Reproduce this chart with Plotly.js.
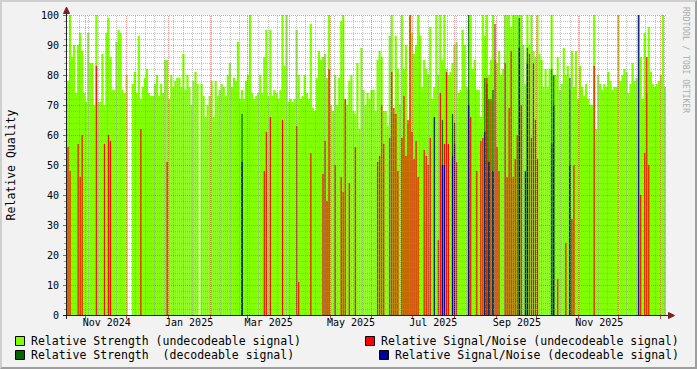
<!DOCTYPE html>
<html><head><meta charset="utf-8">
<script src="https://cdn.plot.ly/plotly-3.0.1.min.js"></script>
<style>
html,body{margin:0;padding:0;background:#F2F2F2;}
#wrap{position:relative;width:697px;height:369px;overflow:hidden;}
#chart{width:697px;height:369px;}
#frame{position:absolute;left:0;top:0;width:697px;height:369px;box-sizing:border-box;border-style:solid;border-width:2px;border-color:#CFCFCF #9E9E9E #9E9E9E #CFCFCF;pointer-events:none;}
</style></head><body>
<div id="wrap"><div id="chart"></div><div id="frame"></div></div>
<script>
// ---- data ----
const sampleStart = '2024-10-18';      // first consolidated sample
const stepHours = 36;                  // consolidation step
const strengthUndecodeable = [
78,100,86,90,74,90,94,88,74,71,
94,84,84,70,100,71,71,87,70,94,
99,86,75,75,91,95,94,75,74,80,
null,null,77,81,74,93,72,76,79,82,
74,73,73,77,80,73,77,74,85,85,
72,80,76,78,79,79,76,87,75,80,
76,70,78,81,77,null,77,73,66,70,
73,78,66,78,73,75,77,76,73,80,
84,76,79,78,91,72,75,72,78,80,
100,74,72,73,74,80,74,86,95,73,
95,73,75,74,72,75,100,83,100,71,
72,71,72,95,80,72,73,80,74,72,
97,69,68,79,88,85,86,87,79,100,
70,68,80,70,79,98,100,72,70,78,
80,68,67,84,62,89,75,70,74,72,
75,75,68,85,88,86,68,68,63,93,
100,67,93,82,70,100,82,90,64,100,
94,87,90,100,93,76,85,82,80,96,
72,76,100,80,100,85,100,82,80,81,
84,90,91,74,75,95,90,76,75,100,
82,85,75,75,66,100,93,100,80,85,
100,85,84,88,80,82,100,100,100,96,
100,100,100,100,100,90,77,100,90,100,
88,86,100,87,85,76,82,76,82,100,
80,80,86,75,77,89,80,83,75,88,
76,88,72,83,76,73,77,72,70,70,
100,62,80,77,75,77,76,81,78,75,
76,76,100,78,80,82,81,74,77,84,
78,79,100,86,72,94,74,96,81,77,
76,77,78,80,100,76
];
// sparse series: sample number -> value
const snrUndecodeableSample = [0,1,5,6,7,14,18,20,21,36,49,97,98,100,106,113,114,120,126,127,128,129,132,135,136,137,139,142,153,154,155,156,159,160,161,162,163,165,166,167,168,169,170,171,172,173,176,177,178,179,183,184,186,187,188,192,199,202,204,205,207,209,211,212,213,216,217,218,219,220,221,222,224,228,229,230,231,232,242,246,249,250,260,283,285,286,287];
const snrUndecodeableValue  = [56,48,57,46,60,83,57,60,58,62,51,48,61,66,65,63,11,54,47,58,38,82,50,46,41,72,44,56,51,53,70,57,59,81,69,67,48,59,73,53,65,100,61,52,58,46,55,53,50,59,25,74,57,81,57,51,66,48,58,59,79,72,97,56,48,84,46,69,88,46,52,60,70,87,59,84,65,52,12,24,32,50,83,40,54,86,50];
const strengthDecodeableSample = [86,185,190,191,198,206,207,208,210,223,227,239,240,248];
const strengthDecodeableValue  = [67,65,67,64,100,79,77,72,75,99,89,82,80,79];
const snrDecodeableSample = [86,181,185,186,190,191,198,206,208,210,223,226,227,239,240,248,282];
const snrDecodeableValue  = [51,66,50,50,53,57,70,61,51,48,89,48,84,57,70,50,100];
const monthLabels = ['Nov 2024','Jan 2025','Mar 2025','May 2025','Jul 2025','Sep 2025','Nov 2025'];
const legendNames = ['Relative Strength (undecodeable signal)','Relative Signal/Noise (undecodeable signal)','Relative Strength  (decodeable signal)','Relative Signal/Noise (decodeable signal)'];
const colors = {strU:'#80FF00', snrU:'#FF0000', strD:'#006600', snrD:'#000099'};

// ---- helpers ----
const t0 = Date.parse(sampleStart + 'T00:00:00Z');
const stepMs = stepHours * 3600e3;
const iso = ms => new Date(ms).toISOString().replace('T',' ').slice(0,19);
const sampleTime = i => iso(t0 + i * stepMs);
const tEnd = t0 + strengthUndecodeable.length * stepMs;

// spikes of the sparse series are drawn as thin lines
function barTrace(samples, values, color, name){
  return {type:'bar', x:samples.map(sampleTime), y:values, width:stepMs*0.5, offset:stepMs*0.25,
    name:name, marker:{color:color, line:{color:color, width:0.2}}, hoverinfo:'skip', showlegend:false};
}
const allSamples = strengthUndecodeable.map((_,i)=>i);
const traces = [
  {type:'bar', x:allSamples.map(sampleTime), y:strengthUndecodeable, width:stepMs, offset:0, name:legendNames[0],
   marker:{color:colors.strU, line:{color:colors.strU, width:0.2}}, hoverinfo:'skip', showlegend:false},
  barTrace(strengthDecodeableSample, strengthDecodeableValue, colors.strD, legendNames[2]),
  barTrace(snrUndecodeableSample, snrUndecodeableValue, colors.snrU, legendNames[1]),
  barTrace(snrDecodeableSample, snrDecodeableValue, colors.snrD, legendNames[3])
];

// plot-area geometry (pixels)
const W=697,H=369,L=67,R=666,T=15,B=315;
const px = p => (p-L)/(R-L);
const py = p => (B-p)/(B-T);

const shapes = [];
const minorGrid = 'rgba(143,143,143,0.55)', majorGrid = 'rgba(222,80,80,0.6)';
const dotted = '1px,1px';
// horizontal grid drawn above the areas, as rrdtool does
for(let v=2; v<=100; v+=2){
  shapes.push({type:'line', xref:'paper', yref:'y', x0:0, x1:1, y0:v-1/6, y1:v-1/6,
    line:{color: v%10===0 ? majorGrid : minorGrid, width:1, dash:dotted}, layer:'above'});
}
// vertical grid: weeks (minor) and month starts (major)
const spanMs = tEnd - t0;
function snapT(ms){ const p = L + (ms-t0)/spanMs*(R-L); const ps = Math.floor(p)+0.5; return iso(t0 + (ps-L)/(R-L)*spanMs); }
const monthStarts = [];
for(let y=2024, m=10; ; ){ const ms = Date.UTC(y,m,1); if(ms>tEnd) break; if(ms>t0) monthStarts.push(ms); m++; if(m>11){m=0;y++;} }
for(let ms = Date.UTC(2024,9,20); ms < tEnd; ms += 7*86400e3){
  if(monthStarts.some(s=>Math.abs(s-ms)<86400e3*0.6)) continue;
  shapes.push({type:'line', xref:'x', yref:'paper', x0:snapT(ms), x1:snapT(ms), y0:0, y1:1, line:{color:minorGrid,width:1,dash:dotted}, layer:'above'});
}
monthStarts.forEach(ms=>{
  shapes.push({type:'line', xref:'x', yref:'paper', x0:snapT(ms), x1:snapT(ms), y0:0, y1:1, line:{color:majorGrid,width:1,dash:dotted}, layer:'above'});
});
// axis lines and arrows
shapes.push({type:'line', xref:'paper', yref:'paper', x0:px(63), x1:px(670), y0:py(315.5), y1:py(315.5), line:{color:'#1F1F1F', width:1}});
shapes.push({type:'line', xref:'paper', yref:'paper', x0:px(66.5), x1:px(66.5), y0:py(319), y1:py(10), line:{color:'#1F1F1F', width:1}});
shapes.push({type:'path', xref:'paper', yref:'paper', path:`M${px(63.5)},${py(13.5)} L${px(69.5)},${py(13.5)} L${px(66.5)},${py(7)} Z`, fillcolor:'#801F1F', line:{color:'#801F1F',width:1}});
shapes.push({type:'path', xref:'paper', yref:'paper', path:`M${px(668.5)},${py(312.5)} L${px(668.5)},${py(318.5)} L${px(674.5)},${py(315.5)} Z`, fillcolor:'#801F1F', line:{color:'#801F1F',width:1}});

// legend (boxes + text, rrdtool style)
const legendItems = [
  {name:legendNames[0], color:colors.strU, bx:15, tx:29, y:341},
  {name:legendNames[1], color:colors.snrU, bx:365, tx:379, y:341},
  {name:legendNames[2], color:colors.strD, bx:15, tx:29, y:355},
  {name:legendNames[3], color:colors.snrD, bx:379, tx:393, y:355}
];
const annotations = [];
legendItems.forEach(it=>{
  shapes.push({type:'rect', xref:'paper', yref:'paper', x0:px(it.bx+0.5), x1:px(it.bx+9.5), y0:py(it.y-4.5), y1:py(it.y+4.5), fillcolor:it.color, line:{color:'#000',width:1}});
  annotations.push({xref:'paper', yref:'paper', x:px(it.tx), y:py(it.y), xanchor:'left', yanchor:'middle', showarrow:false, text:it.name,
    font:{family:'DejaVu Sans Mono', size:11.5, color:'#000'}});
});
annotations.push({xref:'paper', yref:'paper', x:px(686), y:py(60), xanchor:'center', yanchor:'middle', showarrow:false, textangle:90,
  text:'RRDTOOL / TOBI OETIKER', font:{family:'DejaVu Sans Mono', size:8, color:'#ABABAB'}});

// month labels sit in the middle of their month
const tickvals = monthLabels.map(lbl=>{
  const d = new Date(Date.parse('1 ' + lbl + ' UTC'));
  return iso(Date.UTC(d.getUTCFullYear(), d.getUTCMonth(), 1) + 15.5*86400e3);
});

const layout = {
  width:W, height:H, margin:{l:L, r:W-R, t:T, b:H-B, pad:0, autoexpand:false},
  paper_bgcolor:'#F2F2F2', plot_bgcolor:'#FFFFFF',
  font:{family:'DejaVu Sans Mono', size:10, color:'#000'},
  barmode:'overlay', bargap:0, bargroupgap:0, showlegend:false,
  xaxis:{type:'date', automargin:false, range:[iso(t0), iso(tEnd)], showgrid:false, zeroline:false, showline:false,
    tickmode:'array', tickvals:tickvals, ticktext:monthLabels, ticks:'', tickfont:{size:10},
    minor:{tickmode:'array', tickvals:monthStarts.map(iso), ticks:'outside', ticklen:3, tickcolor:'#B05050', showgrid:false}},
  yaxis:{automargin:false, range:[0,100], autorange:false, showgrid:false, zeroline:false, showline:false, tickmode:'linear', tick0:0, dtick:10,
    ticks:'outside', ticklen:3, tickcolor:'#B05050', tickfont:{size:10}, ticklabelstandoff:2,
    minor:{dtick:2, ticks:'outside', ticklen:2, tickcolor:'#999999', showgrid:false},
    title:{text:'Relative Quality', font:{size:11.5}, standoff:22}},
  shapes:shapes, annotations:annotations
};
Plotly.newPlot('chart', traces, layout, {staticPlot:true, displayModeBar:false});
</script>
</body></html>
